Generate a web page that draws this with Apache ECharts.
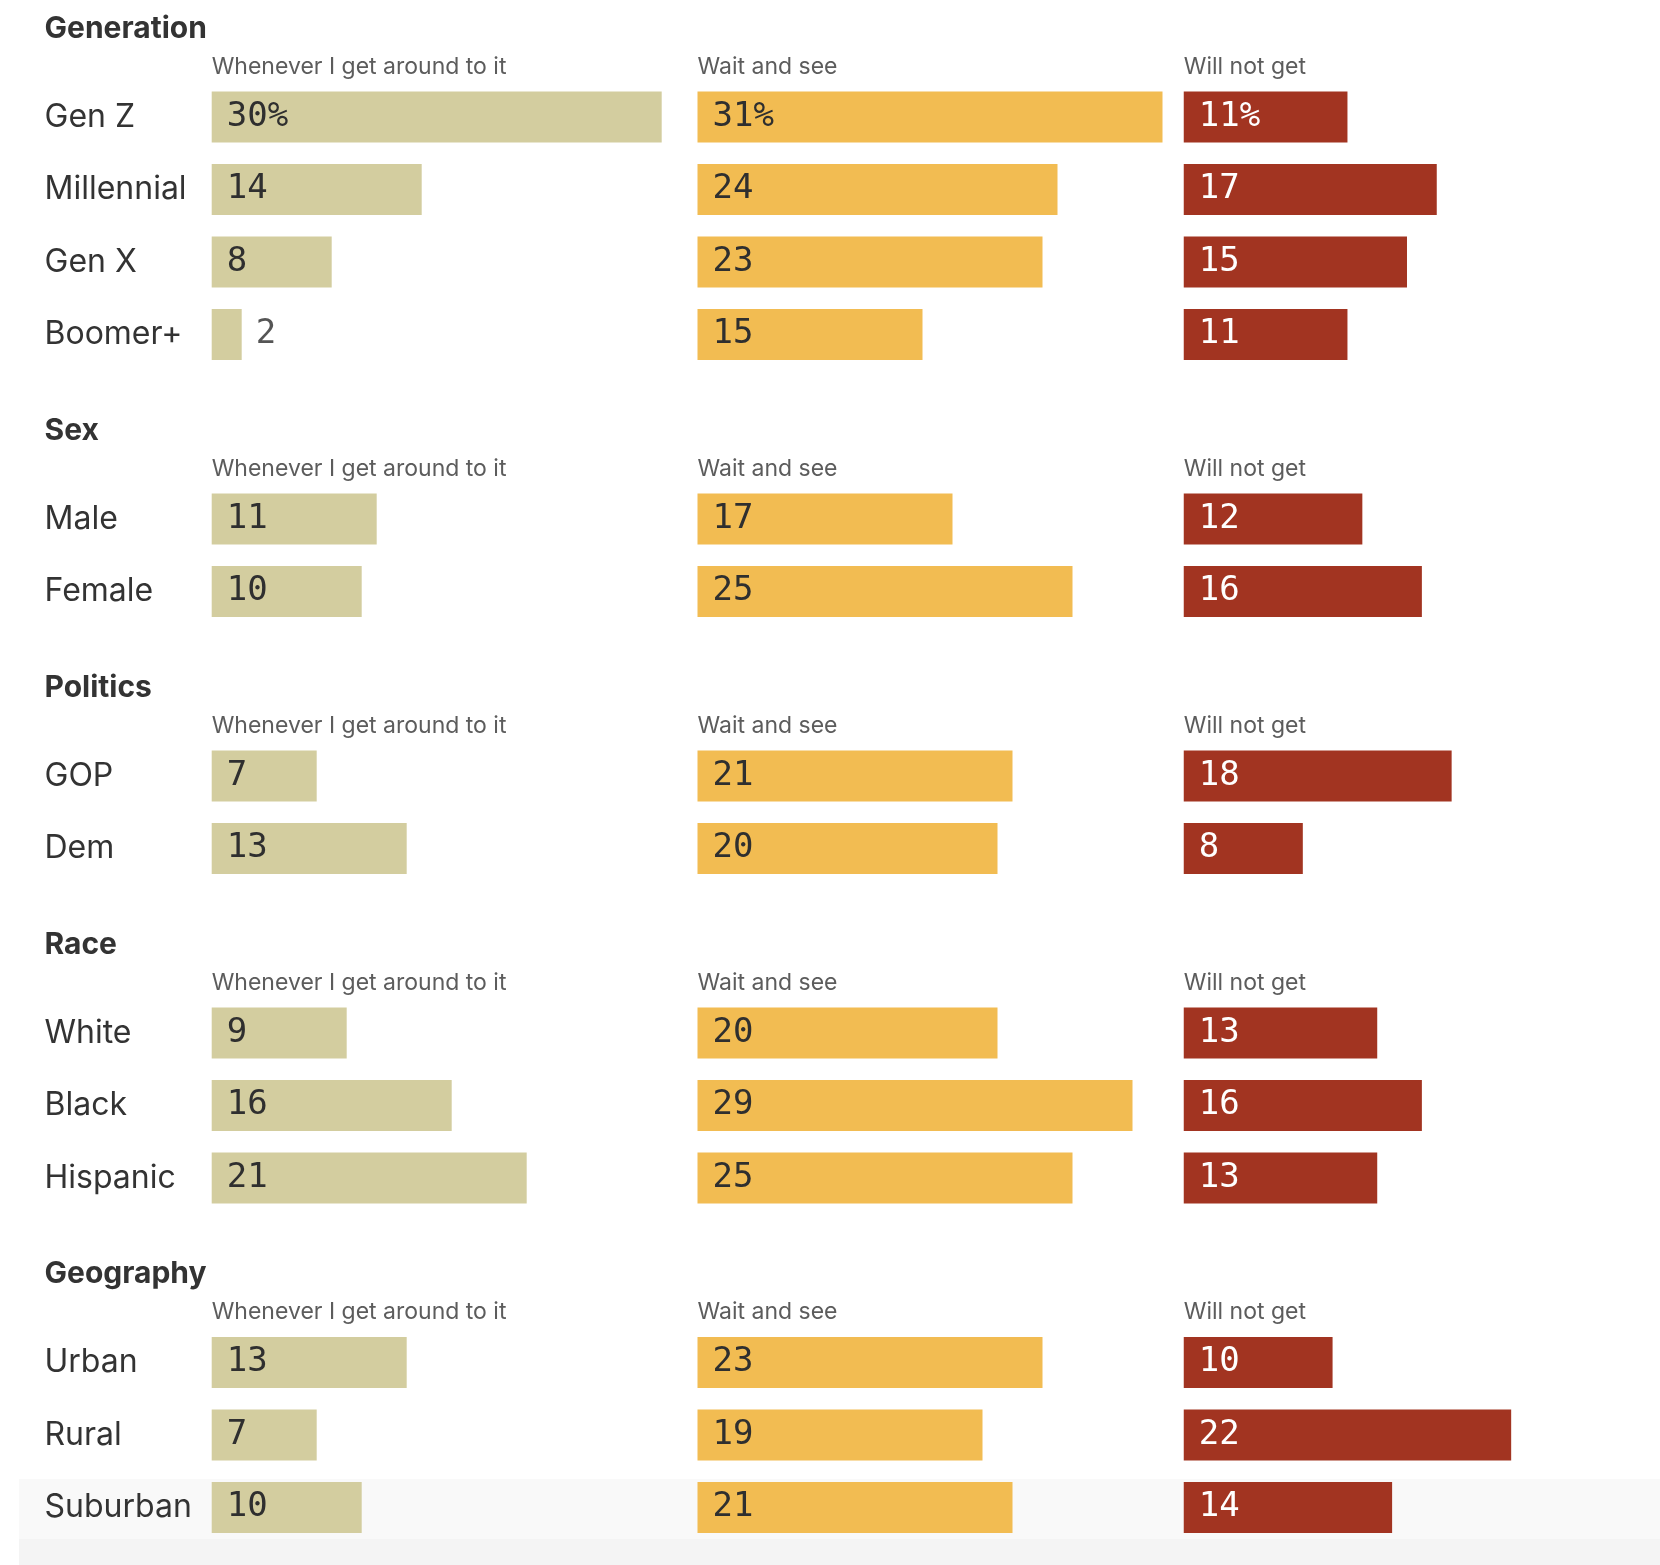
<!DOCTYPE html>
<html>
<head>
<meta charset="utf-8">
<title>Vaccine timing by group</title>
<script src="https://cdn.jsdelivr.net/npm/echarts/dist/echarts.min.js"></script>
<style>
    html, body { margin: 0; padding: 0; background: #fff; }
    #main { width: 1660px; height: 1565px; }
</style>
</head>
<body>
<div id="main"></div>
<script>
// 分组与列
var sections = ['Generation', 'Sex', 'Politics', 'Race', 'Geography'];
var columns = ['Whenever I get around to it', 'Wait and see', 'Will not get'];

var genCats = ['Gen Z', 'Millennial', 'Gen X', 'Boomer+'];
var genWhenever = [30, 14, 8, 2];
var genWait = [31, 24, 23, 15];
var genWillNot = [11, 17, 15, 11];

var sexCats = ['Male', 'Female'];
var sexWhenever = [11, 10];
var sexWait = [17, 25];
var sexWillNot = [12, 16];

var polCats = ['GOP', 'Dem'];
var polWhenever = [7, 13];
var polWait = [21, 20];
var polWillNot = [18, 8];

var raceCats = ['White', 'Black', 'Hispanic'];
var raceWhenever = [9, 16, 21];
var raceWait = [20, 29, 25];
var raceWillNot = [13, 16, 13];

var geoCats = ['Urban', 'Rural', 'Suburban'];
var geoWhenever = [13, 7, 10];
var geoWait = [23, 19, 21];
var geoWillNot = [10, 22, 14];

var groups = [
    { cats: genCats, vals: [genWhenever, genWait, genWillNot] },
    { cats: sexCats, vals: [sexWhenever, sexWait, sexWillNot] },
    { cats: polCats, vals: [polWhenever, polWait, polWillNot] },
    { cats: raceCats, vals: [raceWhenever, raceWait, raceWillNot] },
    { cats: geoCats, vals: [geoWhenever, geoWait, geoWillNot] }
];

var colors = ['#d3cd9f', '#f2bc52', '#a23421'];
var textColors = ['#2f2f2f', '#2f2f2f', '#ffffff'];
var colX = [211.7, 697.5, 1183.75];
var rowH = 72.5;
var sansFont = 'Inter, Roboto, sans-serif';
var monoFont = '"DejaVu Sans Mono", monospace';

var grids = [], xAxes = [], yAxes = [], series = [];
var graphics = [
    // 底部 hover 背景
    { type: 'rect', z: -10, shape: { x: 19, y: 1479, width: 1641, height: 60 }, style: { fill: '#f9f9f9' } },
    { type: 'rect', z: -10, shape: { x: 19, y: 1539, width: 1641, height: 26 }, style: { fill: '#f4f4f4' } }
];

var secTop = 80.75;
groups.forEach(function (g, s) {
    var h = g.cats.length * rowH;
    graphics.push({
        type: 'text', x: 44.5, y: secTop - 52,
        style: { text: sections[s], font: 'bold 30px ' + sansFont, fill: '#333', verticalAlign: 'middle' }
    });
    for (var c = 0; c < 3; c++) {
        var idx = grids.length;
        graphics.push({
            type: 'text', x: colX[c], y: secTop - 14,
            style: { text: columns[c], font: '23px ' + sansFont, fill: '#5c5c5c', verticalAlign: 'middle' }
        });
        grids.push({ left: colX[c], top: secTop, width: 480, height: h });
        xAxes.push({ type: 'value', gridIndex: idx, min: 0, max: 32, show: false });
        yAxes.push({
            type: 'category', gridIndex: idx, data: g.cats, inverse: true,
            axisLine: { show: false }, axisTick: { show: false },
            axisLabel: {
                show: c === 0, align: 'left', margin: colX[0] - 44.5,
                fontSize: 32, fontFamily: sansFont, color: '#333', padding: [4, 0, 0, 0]
            }
        });
        var first = s === 0;
        series.push({
            type: 'bar', xAxisIndex: idx, yAxisIndex: idx, barWidth: 51,
            itemStyle: { color: colors[c] },
            label: {
                show: true, position: 'insideLeft', distance: 15,
                fontSize: 34, fontFamily: monoFont, color: textColors[c], padding: [3, 0, 0, 0],
                formatter: (function (f) {
                    return function (p) { return p.value + (f && p.dataIndex === 0 ? '%' : ''); };
                })(first)
            },
            data: g.vals[c].map(function (v) {
                if (v < 4) return { value: v, label: { position: 'right', distance: 14, color: '#555' } };
                return v;
            })
        });
    }
    secTop += h + 112;
});

var myChart = echarts.init(document.getElementById('main'));
myChart.setOption({
    animation: false,
    backgroundColor: '#fff',
    grid: grids,
    xAxis: xAxes,
    yAxis: yAxes,
    series: series,
    graphic: graphics
});
</script>
</body>
</html>
